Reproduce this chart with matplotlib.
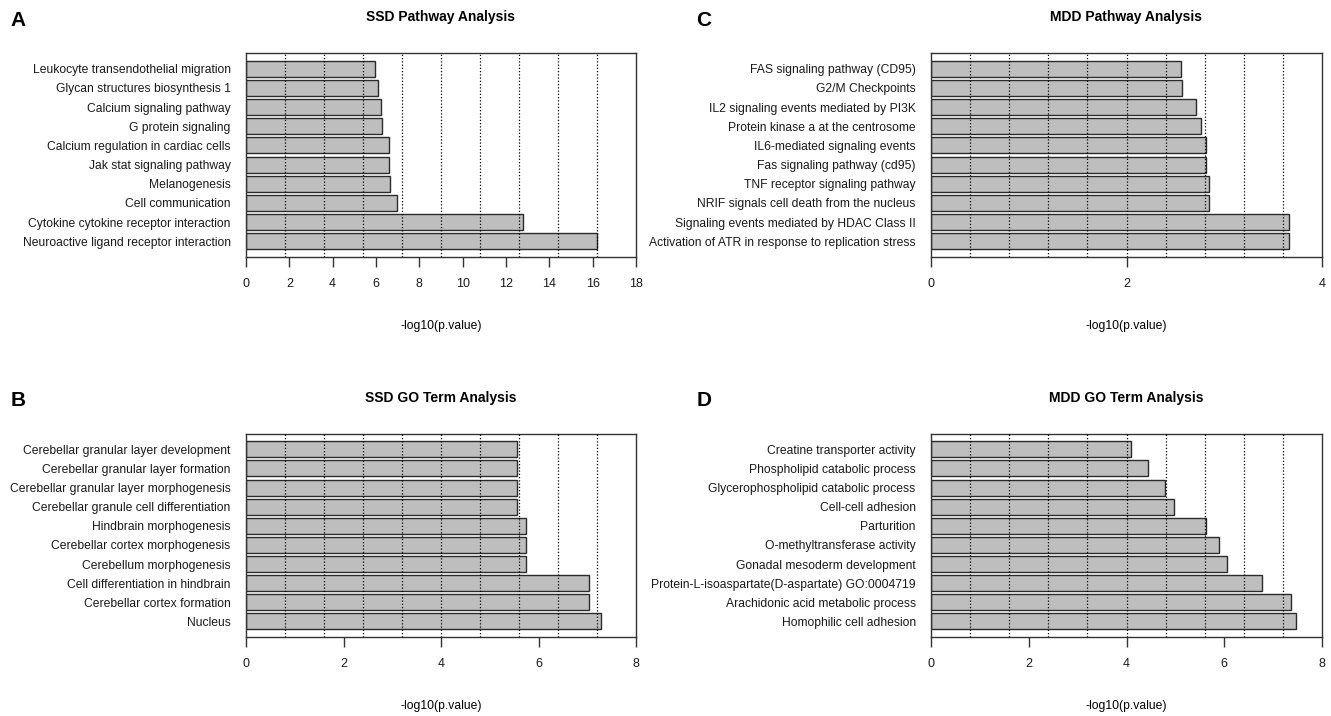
import matplotlib
matplotlib.use("Agg")
import matplotlib.pyplot as plt
import numpy as np

# values (top row of each panel first)
ssd_path_terms = ["Leukocyte transendothelial migration", "Glycan structures biosynthesis 1",
                  "Calcium signaling pathway", "G protein signaling",
                  "Calcium regulation in cardiac cells", "Jak stat signaling pathway",
                  "Melanogenesis", "Cell communication",
                  "Cytokine cytokine receptor interaction", "Neuroactive ligand receptor interaction"]
ssd_path_vals = [5.96, 6.11, 6.21, 6.27, 6.59, 6.59, 6.65, 6.96, 12.8, 16.18]

ssd_go_terms = ["Cerebellar granular layer development", "Cerebellar granular layer formation",
                "Cerebellar granular layer morphogenesis", "Cerebellar granule cell differentiation",
                "Hindbrain morphogenesis", "Cerebellar cortex morphogenesis",
                "Cerebellum morphogenesis", "Cell differentiation in hindbrain",
                "Cerebellar cortex formation", "Nucleus"]
ssd_go_vals = [5.55, 5.55, 5.55, 5.55, 5.74, 5.74, 5.74, 7.04, 7.04, 7.29]

mdd_path_terms = ["FAS signaling pathway (CD95)", "G2/M Checkpoints",
                  "IL2 signaling events mediated by PI3K", "Protein kinase a at the centrosome",
                  "IL6-mediated signaling events", "Fas signaling pathway (cd95)",
                  "TNF receptor signaling pathway", "NRIF signals cell death from the nucleus",
                  "Signaling events mediated by HDAC Class II",
                  "Activation of ATR in response to replication stress"]
mdd_path_vals = [2.56, 2.57, 2.71, 2.76, 2.81, 2.81, 2.84, 2.84, 3.66, 3.66]

mdd_go_terms = ["Creatine transporter activity", "Phospholipid catabolic process",
                "Glycerophospholipid catabolic process", "Cell-cell adhesion", "Parturition",
                "O-methyltransferase activity", "Gonadal mesoderm development",
                "Protein-L-isoaspartate(D-aspartate) GO:0004719",
                "Arachidonic acid metabolic process", "Homophilic cell adhesion"]
mdd_go_vals = [4.09, 4.45, 4.78, 4.98, 5.62, 5.89, 6.05, 6.78, 7.36, 7.47]

plt.rcParams["font.family"] = ["Liberation Sans", "DejaVu Sans"]

W, H = 1331, 716
fig = plt.figure(figsize=(W / 100, H / 100), dpi=100)


def panel(box, terms, vals, xmax, xticks, title, letter, letter_xy):
    left, top, right, bottom = box
    ax = fig.add_axes([left / W, 1 - bottom / H, (right - left) / W, (bottom - top) / H])
    ypos = np.arange(len(terms))[::-1]
    ax.barh(ypos, vals, height=0.833, color="#bebebe", edgecolor="#2b2b2b",
            linewidth=1.0, zorder=2)
    for g in np.linspace(0, xmax, 11)[1:-1]:
        ax.axvline(g, color="black", linestyle=(0, (1, 1.6)), linewidth=0.9, zorder=3)
    ax.set_xlim(0, xmax)
    ax.set_ylim(-0.8, len(terms) - 0.2)
    ax.set_yticks(ypos)
    ax.set_yticklabels(terms, fontsize=8.7, color="#1a1a1a")
    ax.set_xticks(xticks)
    ax.set_xticklabels([str(t) for t in xticks], fontsize=9, color="#1a1a1a")
    ax.tick_params(axis="y", length=0, pad=11)
    ax.tick_params(axis="x", length=7, width=1, pad=8, color="#333333")
    for s in ax.spines.values():
        s.set_linewidth(1.0)
        s.set_color("#333333")
    ax.set_xlabel("-log10(p.value)", fontsize=8.7)
    ax.xaxis.set_label_coords(0.5, -0.31)
    ax.text(0.5, 1.178, title, transform=ax.transAxes, ha="center", va="center",
            fontsize=10, fontweight="bold")
    fig.text(letter_xy[0] / W, 1 - letter_xy[1] / H, letter, fontsize=15,
             fontweight="bold", ha="center", va="center")
    return ax


panel((246, 53.3, 636, 256.7), ssd_path_terms, ssd_path_vals, 18, list(range(0, 19, 2)),
      "SSD Pathway Analysis", "A", (18, 20))
panel((246, 434, 636, 636.7), ssd_go_terms, ssd_go_vals, 8, [0, 2, 4, 6, 8],
      "SSD GO Term Analysis", "B", (18, 400))
panel((931, 53.3, 1322, 256.7), mdd_path_terms, mdd_path_vals, 4, [0, 2, 4],
      "MDD Pathway Analysis", "C", (704, 20))
panel((931, 434, 1322, 636.7), mdd_go_terms, mdd_go_vals, 8, [0, 2, 4, 6, 8],
      "MDD GO Term Analysis", "D", (704, 400))

fig.savefig("out.png", dpi=100)
